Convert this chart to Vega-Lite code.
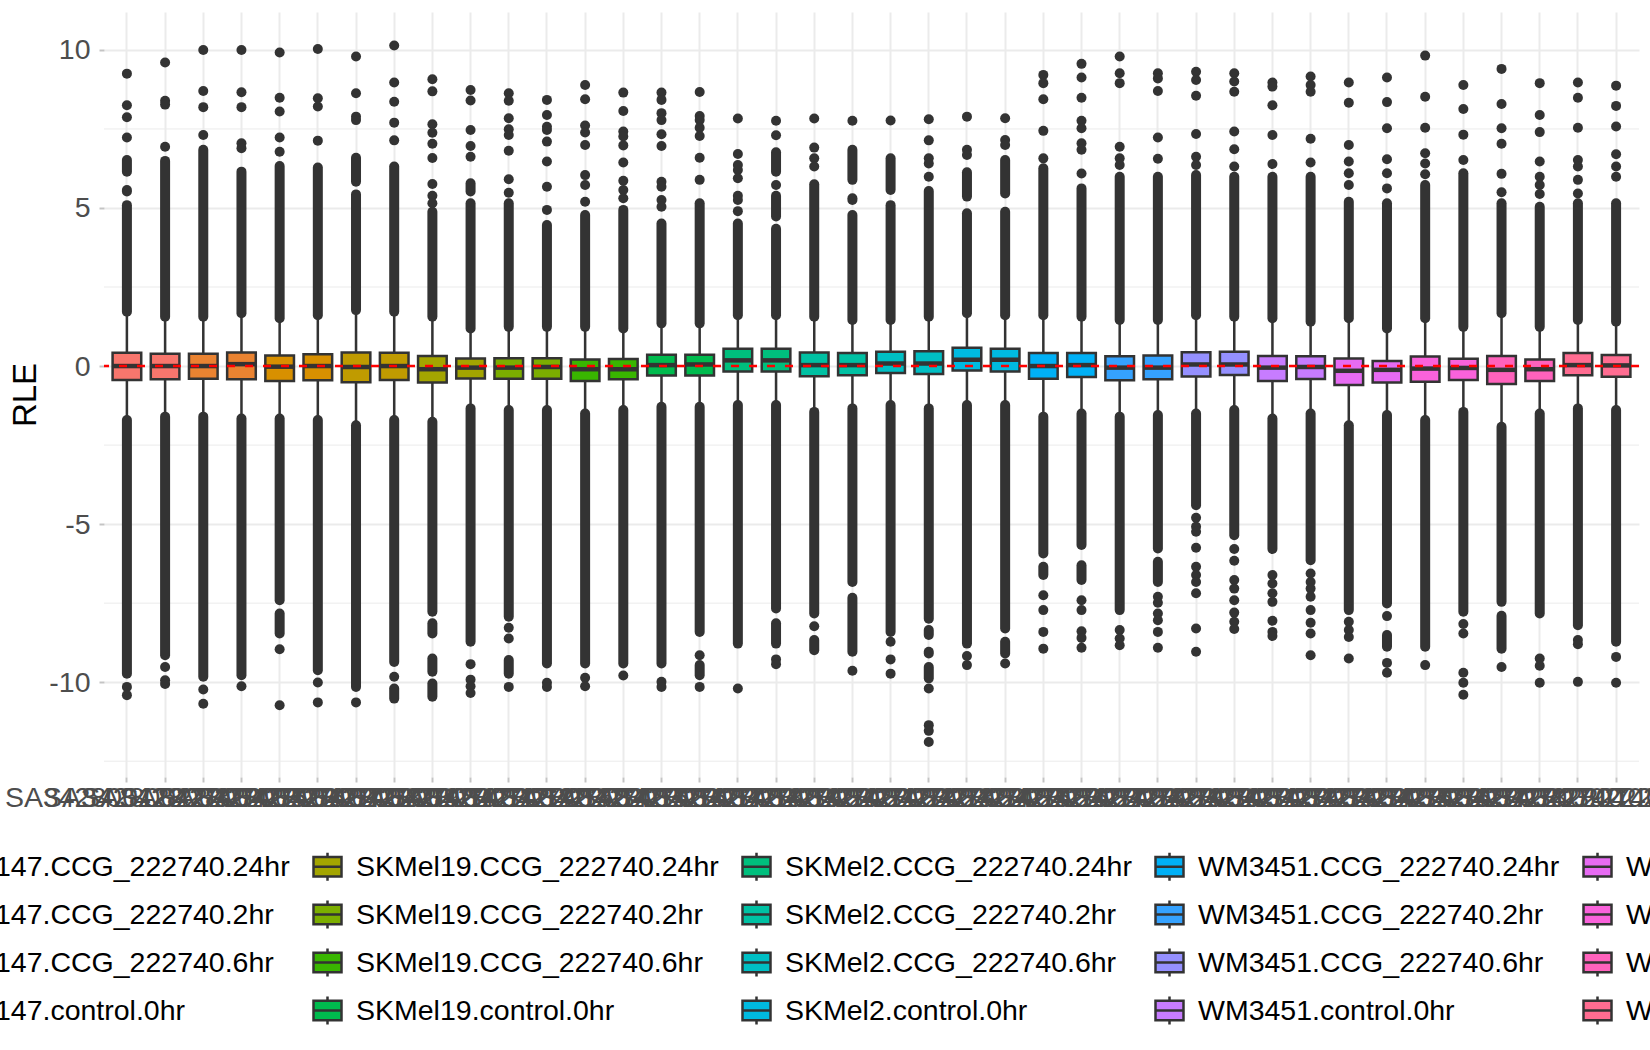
{
  "$schema": "https://vega.github.io/schema/vega-lite/v6.json",
  "autosize": {"type": "none"},
  "width": 1535,
  "height": 765,
  "padding": {"left": 104, "top": 12, "right": 11, "bottom": 273},
  "background": "white",
  "config": {
    "view": {"stroke": null},
    "font": "Liberation Sans",
    "axis": {
      "domain": false,
      "ticks": true,
      "grid": true,
      "tickColor": "#C4C4C4",
      "tickWidth": 2,
      "tickSize": 5,
      "gridColor": "#EBEBEB",
      "gridWidth": 2,
      "labelColor": "#4D4D4D",
      "labelFontSize": 28.5,
      "labelFont": "Liberation Sans",
      "labelLimit": 1000,
      "titleFont": "Liberation Sans",
      "titleFontWeight": "normal",
      "titleColor": "#000000"
    },
    "axisX": {"labelAngle": 0, "labelOverlap": false, "labelPadding": 1, "bandPosition": 0.5},
    "axisY": {"labelPadding": 9, "titleFontSize": 33, "titlePadding": 6, "tickCount": 5}
  },
  "datasets": {
    "minor": [{"v": -12.5}, {"v": -7.5}, {"v": -2.5}, {"v": 2.5}, {"v": 7.5}],
    "zero": [{"ref": 0}],
    "boxes": [
      {"sample": "SA3428001222740", "group": "SKMel147.CCG_222740.24hr", "lo": -1.71, "q1": -0.44, "med": 0.0, "q3": 0.42, "hi": 1.72},
      {"sample": "SA3428002222740", "group": "SKMel147.CCG_222740.24hr", "lo": -1.60, "q1": -0.42, "med": 0.0, "q3": 0.39, "hi": 1.56},
      {"sample": "SA3428003222740", "group": "SKMel147.CCG_222740.2hr", "lo": -1.60, "q1": -0.40, "med": 0.0, "q3": 0.39, "hi": 1.56},
      {"sample": "SA3428004222740", "group": "SKMel147.CCG_222740.2hr", "lo": -1.66, "q1": -0.42, "med": 0.06, "q3": 0.43, "hi": 1.67},
      {"sample": "SA3428005222740", "group": "SKMel147.CCG_222740.6hr", "lo": -1.66, "q1": -0.47, "med": -0.02, "q3": 0.33, "hi": 1.51},
      {"sample": "SA3428006222740", "group": "SKMel147.CCG_222740.6hr", "lo": -1.71, "q1": -0.45, "med": 0.0, "q3": 0.37, "hi": 1.61},
      {"sample": "SA3428007222740", "group": "SKMel147.control.0hr", "lo": -1.87, "q1": -0.51, "med": -0.03, "q3": 0.43, "hi": 1.77},
      {"sample": "SA3428008222740", "group": "SKMel147.control.0hr", "lo": -1.71, "q1": -0.44, "med": 0.0, "q3": 0.42, "hi": 1.72},
      {"sample": "SA3428009222740", "group": "SKMel19.CCG_222740.24hr", "lo": -1.76, "q1": -0.52, "med": -0.10, "q3": 0.32, "hi": 1.56},
      {"sample": "SA3428010222740", "group": "SKMel19.CCG_222740.24hr", "lo": -1.34, "q1": -0.39, "med": -0.05, "q3": 0.24, "hi": 1.19},
      {"sample": "SA3428011222740", "group": "SKMel19.CCG_222740.2hr", "lo": -1.39, "q1": -0.40, "med": -0.05, "q3": 0.25, "hi": 1.24},
      {"sample": "SA3428012222740", "group": "SKMel19.CCG_222740.2hr", "lo": -1.39, "q1": -0.40, "med": -0.03, "q3": 0.25, "hi": 1.24},
      {"sample": "SA3428013222740", "group": "SKMel19.CCG_222740.6hr", "lo": -1.50, "q1": -0.47, "med": -0.10, "q3": 0.21, "hi": 1.24},
      {"sample": "SA3428014222740", "group": "SKMel19.CCG_222740.6hr", "lo": -1.39, "q1": -0.42, "med": -0.10, "q3": 0.22, "hi": 1.19},
      {"sample": "SA3428015222740", "group": "SKMel19.control.0hr", "lo": -1.29, "q1": -0.30, "med": 0.03, "q3": 0.36, "hi": 1.35},
      {"sample": "SA3428016222740", "group": "SKMel19.control.0hr", "lo": -1.29, "q1": -0.30, "med": 0.05, "q3": 0.36, "hi": 1.35},
      {"sample": "SA3428017222740", "group": "SKMel2.CCG_222740.24hr", "lo": -1.23, "q1": -0.17, "med": 0.18, "q3": 0.55, "hi": 1.61},
      {"sample": "SA3428018222740", "group": "SKMel2.CCG_222740.24hr", "lo": -1.23, "q1": -0.17, "med": 0.18, "q3": 0.55, "hi": 1.61},
      {"sample": "SA3428019222740", "group": "SKMel2.CCG_222740.2hr", "lo": -1.45, "q1": -0.32, "med": 0.03, "q3": 0.43, "hi": 1.56},
      {"sample": "SA3428020222740", "group": "SKMel2.CCG_222740.2hr", "lo": -1.34, "q1": -0.29, "med": 0.03, "q3": 0.41, "hi": 1.46},
      {"sample": "SA3428021222740", "group": "SKMel2.CCG_222740.6hr", "lo": -1.23, "q1": -0.22, "med": 0.08, "q3": 0.45, "hi": 1.46},
      {"sample": "SA3428022222740", "group": "SKMel2.CCG_222740.6hr", "lo": -1.34, "q1": -0.25, "med": 0.08, "q3": 0.47, "hi": 1.56},
      {"sample": "SA3428023222740", "group": "SKMel2.control.0hr", "lo": -1.23, "q1": -0.14, "med": 0.20, "q3": 0.58, "hi": 1.67},
      {"sample": "SA3428024222740", "group": "SKMel2.control.0hr", "lo": -1.23, "q1": -0.17, "med": 0.20, "q3": 0.55, "hi": 1.61},
      {"sample": "SA3428025222740", "group": "WM3451.CCG_222740.24hr", "lo": -1.60, "q1": -0.40, "med": 0.0, "q3": 0.41, "hi": 1.61},
      {"sample": "SA3428026222740", "group": "WM3451.CCG_222740.24hr", "lo": -1.50, "q1": -0.35, "med": 0.03, "q3": 0.41, "hi": 1.56},
      {"sample": "SA3428027222740", "group": "WM3451.CCG_222740.2hr", "lo": -1.60, "q1": -0.45, "med": -0.05, "q3": 0.31, "hi": 1.46},
      {"sample": "SA3428028222740", "group": "WM3451.CCG_222740.2hr", "lo": -1.55, "q1": -0.42, "med": -0.05, "q3": 0.33, "hi": 1.46},
      {"sample": "SA3428029222740", "group": "WM3451.CCG_222740.6hr", "lo": -1.50, "q1": -0.33, "med": 0.05, "q3": 0.44, "hi": 1.61},
      {"sample": "SA3428030222740", "group": "WM3451.CCG_222740.6hr", "lo": -1.39, "q1": -0.28, "med": 0.05, "q3": 0.45, "hi": 1.56},
      {"sample": "SA3428031222740", "group": "WM3451.control.0hr", "lo": -1.66, "q1": -0.47, "med": -0.05, "q3": 0.32, "hi": 1.51},
      {"sample": "SA3428032222740", "group": "WM3451.control.0hr", "lo": -1.50, "q1": -0.41, "med": -0.03, "q3": 0.31, "hi": 1.40},
      {"sample": "SA3428033222740", "group": "WM983B.CCG_222740.24hr", "lo": -1.87, "q1": -0.60, "med": -0.15, "q3": 0.24, "hi": 1.51},
      {"sample": "SA3428034222740", "group": "WM983B.CCG_222740.24hr", "lo": -1.55, "q1": -0.52, "med": -0.12, "q3": 0.16, "hi": 1.19},
      {"sample": "SA3428035222740", "group": "WM983B.CCG_222740.2hr", "lo": -1.71, "q1": -0.50, "med": -0.08, "q3": 0.30, "hi": 1.51},
      {"sample": "SA3428036222740", "group": "WM983B.CCG_222740.2hr", "lo": -1.45, "q1": -0.44, "med": -0.06, "q3": 0.23, "hi": 1.24},
      {"sample": "SA3428037222740", "group": "WM983B.CCG_222740.6hr", "lo": -1.92, "q1": -0.57, "med": -0.12, "q3": 0.32, "hi": 1.67},
      {"sample": "SA3428038222740", "group": "WM983B.CCG_222740.6hr", "lo": -1.50, "q1": -0.47, "med": -0.10, "q3": 0.21, "hi": 1.24},
      {"sample": "SA3428039222740", "group": "WM983B.control.0hr", "lo": -1.34, "q1": -0.29, "med": 0.03, "q3": 0.41, "hi": 1.46},
      {"sample": "SA3428040222740", "group": "WM983B.control.0hr", "lo": -1.39, "q1": -0.34, "med": 0.02, "q3": 0.35, "hi": 1.40}
    ],
    "dense": [
      {"sample": "SA3428001222740", "a": 1.72, "b": 5.09}, {"sample": "SA3428001222740", "a": 5.52, "b": 5.57}, {"sample": "SA3428001222740", "a": 6.15, "b": 6.52}, {"sample": "SA3428001222740", "a": -1.71, "b": -9.73},
      {"sample": "SA3428002222740", "a": 1.56, "b": 6.49}, {"sample": "SA3428002222740", "a": -1.60, "b": -9.15},
      {"sample": "SA3428003222740", "a": 1.56, "b": 6.84}, {"sample": "SA3428003222740", "a": -1.60, "b": -9.83},
      {"sample": "SA3428004222740", "a": 1.67, "b": 6.15}, {"sample": "SA3428004222740", "a": -1.66, "b": -9.78},
      {"sample": "SA3428005222740", "a": 1.51, "b": 6.33}, {"sample": "SA3428005222740", "a": -1.66, "b": -7.41}, {"sample": "SA3428005222740", "a": -7.83, "b": -8.46},
      {"sample": "SA3428006222740", "a": 1.61, "b": 6.28}, {"sample": "SA3428006222740", "a": -1.71, "b": -9.62},
      {"sample": "SA3428007222740", "a": 1.77, "b": 5.43}, {"sample": "SA3428007222740", "a": 5.83, "b": 6.59}, {"sample": "SA3428007222740", "a": -1.87, "b": -10.15},
      {"sample": "SA3428008222740", "a": 1.72, "b": 6.31}, {"sample": "SA3428008222740", "a": -1.71, "b": -9.36}, {"sample": "SA3428008222740", "a": -10.20, "b": -10.52},
      {"sample": "SA3428009222740", "a": 1.56, "b": 4.88}, {"sample": "SA3428009222740", "a": -1.76, "b": -7.77}, {"sample": "SA3428009222740", "a": -8.14, "b": -8.46}, {"sample": "SA3428009222740", "a": -9.25, "b": -9.67}, {"sample": "SA3428009222740", "a": -10.04, "b": -10.46},
      {"sample": "SA3428010222740", "a": 1.19, "b": 5.15}, {"sample": "SA3428010222740", "a": 5.52, "b": 5.78}, {"sample": "SA3428010222740", "a": -1.34, "b": -8.72},
      {"sample": "SA3428011222740", "a": 1.24, "b": 5.15}, {"sample": "SA3428011222740", "a": -1.39, "b": -7.93}, {"sample": "SA3428011222740", "a": -9.30, "b": -9.73},
      {"sample": "SA3428012222740", "a": 1.24, "b": 4.46}, {"sample": "SA3428012222740", "a": -1.39, "b": -9.41},
      {"sample": "SA3428013222740", "a": 1.24, "b": 4.78}, {"sample": "SA3428013222740", "a": -1.50, "b": -9.41},
      {"sample": "SA3428014222740", "a": 1.19, "b": 4.94}, {"sample": "SA3428014222740", "a": -1.39, "b": -9.41},
      {"sample": "SA3428015222740", "a": 1.35, "b": 4.51}, {"sample": "SA3428015222740", "a": -1.29, "b": -9.41},
      {"sample": "SA3428016222740", "a": 1.35, "b": 5.15}, {"sample": "SA3428016222740", "a": -1.29, "b": -8.41}, {"sample": "SA3428016222740", "a": -9.46, "b": -9.78},
      {"sample": "SA3428017222740", "a": 1.61, "b": 4.51}, {"sample": "SA3428017222740", "a": -1.23, "b": -8.78},
      {"sample": "SA3428018222740", "a": 1.61, "b": 4.34}, {"sample": "SA3428018222740", "a": 4.73, "b": 5.39}, {"sample": "SA3428018222740", "a": 6.15, "b": 6.76}, {"sample": "SA3428018222740", "a": -1.23, "b": -7.67}, {"sample": "SA3428018222740", "a": -8.14, "b": -8.78},
      {"sample": "SA3428019222740", "a": 1.56, "b": 5.75}, {"sample": "SA3428019222740", "a": -1.45, "b": -7.83}, {"sample": "SA3428019222740", "a": -8.67, "b": -8.99},
      {"sample": "SA3428020222740", "a": 1.46, "b": 4.78}, {"sample": "SA3428020222740", "a": 5.25, "b": 5.31}, {"sample": "SA3428020222740", "a": 5.89, "b": 6.84}, {"sample": "SA3428020222740", "a": -1.34, "b": -6.83}, {"sample": "SA3428020222740", "a": -7.33, "b": -9.04},
      {"sample": "SA3428021222740", "a": 1.46, "b": 5.09}, {"sample": "SA3428021222740", "a": 5.57, "b": 6.57}, {"sample": "SA3428021222740", "a": -1.23, "b": -8.41},
      {"sample": "SA3428022222740", "a": 1.56, "b": 5.54}, {"sample": "SA3428022222740", "a": -1.34, "b": -7.99}, {"sample": "SA3428022222740", "a": -8.35, "b": -8.51}, {"sample": "SA3428022222740", "a": -9.04, "b": -9.09}, {"sample": "SA3428022222740", "a": -9.52, "b": -9.88},
      {"sample": "SA3428023222740", "a": 1.67, "b": 4.83}, {"sample": "SA3428023222740", "a": 5.36, "b": 6.13}, {"sample": "SA3428023222740", "a": -1.23, "b": -8.78},
      {"sample": "SA3428024222740", "a": 1.61, "b": 4.88}, {"sample": "SA3428024222740", "a": 5.46, "b": 6.52}, {"sample": "SA3428024222740", "a": -1.23, "b": -8.30}, {"sample": "SA3428024222740", "a": -8.72, "b": -9.09},
      {"sample": "SA3428025222740", "a": 1.61, "b": 6.26}, {"sample": "SA3428025222740", "a": -1.60, "b": -5.93}, {"sample": "SA3428025222740", "a": -6.35, "b": -6.61},
      {"sample": "SA3428026222740", "a": 1.56, "b": 5.62}, {"sample": "SA3428026222740", "a": -1.50, "b": -5.66}, {"sample": "SA3428026222740", "a": -6.30, "b": -6.77},
      {"sample": "SA3428027222740", "a": 1.46, "b": 5.99}, {"sample": "SA3428027222740", "a": -1.60, "b": -7.72},
      {"sample": "SA3428028222740", "a": 1.46, "b": 5.99}, {"sample": "SA3428028222740", "a": -1.55, "b": -5.77}, {"sample": "SA3428028222740", "a": -6.19, "b": -6.83},
      {"sample": "SA3428029222740", "a": 1.61, "b": 6.04}, {"sample": "SA3428029222740", "a": -1.50, "b": -4.40},
      {"sample": "SA3428030222740", "a": 1.56, "b": 5.99}, {"sample": "SA3428030222740", "a": -1.39, "b": -5.35},
      {"sample": "SA3428031222740", "a": 1.51, "b": 5.99}, {"sample": "SA3428031222740", "a": -1.66, "b": -5.79},
      {"sample": "SA3428032222740", "a": 1.40, "b": 5.99}, {"sample": "SA3428032222740", "a": -1.50, "b": -6.14},
      {"sample": "SA3428033222740", "a": 1.51, "b": 5.20}, {"sample": "SA3428033222740", "a": -1.87, "b": -7.72},
      {"sample": "SA3428034222740", "a": 1.19, "b": 5.15}, {"sample": "SA3428034222740", "a": -1.55, "b": -7.51}, {"sample": "SA3428034222740", "a": -8.51, "b": -8.88},
      {"sample": "SA3428035222740", "a": 1.51, "b": 5.73}, {"sample": "SA3428035222740", "a": -1.71, "b": -8.88},
      {"sample": "SA3428036222740", "a": 1.24, "b": 6.10}, {"sample": "SA3428036222740", "a": -1.45, "b": -7.77},
      {"sample": "SA3428037222740", "a": 1.67, "b": 5.15}, {"sample": "SA3428037222740", "a": -1.92, "b": -7.46}, {"sample": "SA3428037222740", "a": -7.90, "b": -8.94},
      {"sample": "SA3428038222740", "a": 1.24, "b": 5.04}, {"sample": "SA3428038222740", "a": -1.50, "b": -7.83},
      {"sample": "SA3428039222740", "a": 1.46, "b": 5.15}, {"sample": "SA3428039222740", "a": -1.34, "b": -8.20},
      {"sample": "SA3428040222740", "a": 1.40, "b": 5.15}, {"sample": "SA3428040222740", "a": -1.39, "b": -8.72}
    ],
    "pts": [
      {"sample": "SA3428001222740", "v": 9.25}, {"sample": "SA3428001222740", "v": 8.25}, {"sample": "SA3428001222740", "v": 7.87}, {"sample": "SA3428001222740", "v": 7.23}, {"sample": "SA3428001222740", "v": -10.15}, {"sample": "SA3428001222740", "v": -10.41},
      {"sample": "SA3428002222740", "v": 9.60}, {"sample": "SA3428002222740", "v": 8.39}, {"sample": "SA3428002222740", "v": 8.27}, {"sample": "SA3428002222740", "v": 6.94}, {"sample": "SA3428002222740", "v": -9.52}, {"sample": "SA3428002222740", "v": -9.94}, {"sample": "SA3428002222740", "v": -10.06},
      {"sample": "SA3428003222740", "v": 10.0}, {"sample": "SA3428003222740", "v": 8.70}, {"sample": "SA3428003222740", "v": 8.19}, {"sample": "SA3428003222740", "v": 7.31}, {"sample": "SA3428003222740", "v": -10.23}, {"sample": "SA3428003222740", "v": -10.68},
      {"sample": "SA3428004222740", "v": 10.0}, {"sample": "SA3428004222740", "v": 8.66}, {"sample": "SA3428004222740", "v": 8.19}, {"sample": "SA3428004222740", "v": 7.05}, {"sample": "SA3428004222740", "v": 6.89}, {"sample": "SA3428004222740", "v": -10.13},
      {"sample": "SA3428005222740", "v": 9.92}, {"sample": "SA3428005222740", "v": 8.49}, {"sample": "SA3428005222740", "v": 8.05}, {"sample": "SA3428005222740", "v": 7.23}, {"sample": "SA3428005222740", "v": 6.78}, {"sample": "SA3428005222740", "v": -8.96}, {"sample": "SA3428005222740", "v": -10.73},
      {"sample": "SA3428006222740", "v": 10.03}, {"sample": "SA3428006222740", "v": 8.47}, {"sample": "SA3428006222740", "v": 8.21}, {"sample": "SA3428006222740", "v": 7.13}, {"sample": "SA3428006222740", "v": -10.01}, {"sample": "SA3428006222740", "v": -10.64},
      {"sample": "SA3428007222740", "v": 9.79}, {"sample": "SA3428007222740", "v": 8.63}, {"sample": "SA3428007222740", "v": 7.89}, {"sample": "SA3428007222740", "v": 7.78}, {"sample": "SA3428007222740", "v": -10.64},
      {"sample": "SA3428008222740", "v": 10.14}, {"sample": "SA3428008222740", "v": 8.97}, {"sample": "SA3428008222740", "v": 8.36}, {"sample": "SA3428008222740", "v": 7.70}, {"sample": "SA3428008222740", "v": 7.14}, {"sample": "SA3428008222740", "v": -9.83},
      {"sample": "SA3428009222740", "v": 9.07}, {"sample": "SA3428009222740", "v": 8.69}, {"sample": "SA3428009222740", "v": 7.65}, {"sample": "SA3428009222740", "v": 7.38}, {"sample": "SA3428009222740", "v": 7.03}, {"sample": "SA3428009222740", "v": 6.58}, {"sample": "SA3428009222740", "v": 5.76}, {"sample": "SA3428009222740", "v": 5.39}, {"sample": "SA3428009222740", "v": 5.15},
      {"sample": "SA3428010222740", "v": 8.73}, {"sample": "SA3428010222740", "v": 8.40}, {"sample": "SA3428010222740", "v": 7.47}, {"sample": "SA3428010222740", "v": 6.96}, {"sample": "SA3428010222740", "v": 6.62}, {"sample": "SA3428010222740", "v": -9.43}, {"sample": "SA3428010222740", "v": -9.92}, {"sample": "SA3428010222740", "v": -10.13}, {"sample": "SA3428010222740", "v": -10.34},
      {"sample": "SA3428011222740", "v": 8.63}, {"sample": "SA3428011222740", "v": 8.39}, {"sample": "SA3428011222740", "v": 7.84}, {"sample": "SA3428011222740", "v": 7.49}, {"sample": "SA3428011222740", "v": 7.31}, {"sample": "SA3428011222740", "v": 6.81}, {"sample": "SA3428011222740", "v": 5.91}, {"sample": "SA3428011222740", "v": 5.48}, {"sample": "SA3428011222740", "v": -8.28}, {"sample": "SA3428011222740", "v": -8.62}, {"sample": "SA3428011222740", "v": -10.15},
      {"sample": "SA3428012222740", "v": 8.42}, {"sample": "SA3428012222740", "v": 7.94}, {"sample": "SA3428012222740", "v": 7.57}, {"sample": "SA3428012222740", "v": 7.47}, {"sample": "SA3428012222740", "v": 7.10}, {"sample": "SA3428012222740", "v": 6.47}, {"sample": "SA3428012222740", "v": 5.67}, {"sample": "SA3428012222740", "v": 4.94}, {"sample": "SA3428012222740", "v": -10.02}, {"sample": "SA3428012222740", "v": -10.15},
      {"sample": "SA3428013222740", "v": 8.89}, {"sample": "SA3428013222740", "v": 8.44}, {"sample": "SA3428013222740", "v": 7.61}, {"sample": "SA3428013222740", "v": 7.39}, {"sample": "SA3428013222740", "v": 6.99}, {"sample": "SA3428013222740", "v": 6.04}, {"sample": "SA3428013222740", "v": 5.73}, {"sample": "SA3428013222740", "v": 5.20}, {"sample": "SA3428013222740", "v": -9.86}, {"sample": "SA3428013222740", "v": -10.13},
      {"sample": "SA3428014222740", "v": 8.65}, {"sample": "SA3428014222740", "v": 8.07}, {"sample": "SA3428014222740", "v": 7.42}, {"sample": "SA3428014222740", "v": 7.26}, {"sample": "SA3428014222740", "v": 6.98}, {"sample": "SA3428014222740", "v": 6.44}, {"sample": "SA3428014222740", "v": 5.86}, {"sample": "SA3428014222740", "v": 5.57}, {"sample": "SA3428014222740", "v": 5.31}, {"sample": "SA3428014222740", "v": -9.79},
      {"sample": "SA3428015222740", "v": 8.65}, {"sample": "SA3428015222740", "v": 8.42}, {"sample": "SA3428015222740", "v": 8.00}, {"sample": "SA3428015222740", "v": 7.78}, {"sample": "SA3428015222740", "v": 7.33}, {"sample": "SA3428015222740", "v": 6.96}, {"sample": "SA3428015222740", "v": 5.83}, {"sample": "SA3428015222740", "v": 5.67}, {"sample": "SA3428015222740", "v": 5.25}, {"sample": "SA3428015222740", "v": 5.04}, {"sample": "SA3428015222740", "v": -9.99}, {"sample": "SA3428015222740", "v": -10.15},
      {"sample": "SA3428016222740", "v": 8.67}, {"sample": "SA3428016222740", "v": 7.91}, {"sample": "SA3428016222740", "v": 7.78}, {"sample": "SA3428016222740", "v": 7.54}, {"sample": "SA3428016222740", "v": 7.28}, {"sample": "SA3428016222740", "v": 6.59}, {"sample": "SA3428016222740", "v": 5.89}, {"sample": "SA3428016222740", "v": -9.15}, {"sample": "SA3428016222740", "v": -10.15},
      {"sample": "SA3428017222740", "v": 7.83}, {"sample": "SA3428017222740", "v": 6.71}, {"sample": "SA3428017222740", "v": 6.36}, {"sample": "SA3428017222740", "v": 6.20}, {"sample": "SA3428017222740", "v": 5.94}, {"sample": "SA3428017222740", "v": 5.39}, {"sample": "SA3428017222740", "v": 5.25}, {"sample": "SA3428017222740", "v": 4.90}, {"sample": "SA3428017222740", "v": -10.20},
      {"sample": "SA3428018222740", "v": 7.76}, {"sample": "SA3428018222740", "v": 7.30}, {"sample": "SA3428018222740", "v": 5.73}, {"sample": "SA3428018222740", "v": -9.28}, {"sample": "SA3428018222740", "v": -9.43},
      {"sample": "SA3428019222740", "v": 7.83}, {"sample": "SA3428019222740", "v": 6.91}, {"sample": "SA3428019222740", "v": 6.57}, {"sample": "SA3428019222740", "v": 6.31}, {"sample": "SA3428019222740", "v": -8.23},
      {"sample": "SA3428020222740", "v": 7.76}, {"sample": "SA3428020222740", "v": -9.64},
      {"sample": "SA3428021222740", "v": 7.77}, {"sample": "SA3428021222740", "v": -8.72}, {"sample": "SA3428021222740", "v": -9.28}, {"sample": "SA3428021222740", "v": -9.73},
      {"sample": "SA3428022222740", "v": 7.81}, {"sample": "SA3428022222740", "v": 7.14}, {"sample": "SA3428022222740", "v": 6.57}, {"sample": "SA3428022222740", "v": 6.41}, {"sample": "SA3428022222740", "v": 5.99}, {"sample": "SA3428022222740", "v": -10.20}, {"sample": "SA3428022222740", "v": -11.36}, {"sample": "SA3428022222740", "v": -11.54}, {"sample": "SA3428022222740", "v": -11.89},
      {"sample": "SA3428023222740", "v": 7.89}, {"sample": "SA3428023222740", "v": 6.84}, {"sample": "SA3428023222740", "v": 6.68}, {"sample": "SA3428023222740", "v": -9.17}, {"sample": "SA3428023222740", "v": -9.46},
      {"sample": "SA3428024222740", "v": 7.84}, {"sample": "SA3428024222740", "v": 7.15}, {"sample": "SA3428024222740", "v": 6.99}, {"sample": "SA3428024222740", "v": -9.41},
      {"sample": "SA3428025222740", "v": 9.21}, {"sample": "SA3428025222740", "v": 8.95}, {"sample": "SA3428025222740", "v": 8.44}, {"sample": "SA3428025222740", "v": 7.44}, {"sample": "SA3428025222740", "v": 6.57}, {"sample": "SA3428025222740", "v": -7.25}, {"sample": "SA3428025222740", "v": -7.72}, {"sample": "SA3428025222740", "v": -8.41}, {"sample": "SA3428025222740", "v": -8.94},
      {"sample": "SA3428026222740", "v": 9.56}, {"sample": "SA3428026222740", "v": 9.13}, {"sample": "SA3428026222740", "v": 8.49}, {"sample": "SA3428026222740", "v": 7.76}, {"sample": "SA3428026222740", "v": 7.52}, {"sample": "SA3428026222740", "v": 7.05}, {"sample": "SA3428026222740", "v": 6.84}, {"sample": "SA3428026222740", "v": 6.09}, {"sample": "SA3428026222740", "v": -7.41}, {"sample": "SA3428026222740", "v": -7.72}, {"sample": "SA3428026222740", "v": -8.39}, {"sample": "SA3428026222740", "v": -8.60}, {"sample": "SA3428026222740", "v": -8.91},
      {"sample": "SA3428027222740", "v": 9.79}, {"sample": "SA3428027222740", "v": 9.26}, {"sample": "SA3428027222740", "v": 8.95}, {"sample": "SA3428027222740", "v": 6.94}, {"sample": "SA3428027222740", "v": 6.57}, {"sample": "SA3428027222740", "v": 6.36}, {"sample": "SA3428027222740", "v": -8.35}, {"sample": "SA3428027222740", "v": -8.62}, {"sample": "SA3428027222740", "v": -8.83},
      {"sample": "SA3428028222740", "v": 9.26}, {"sample": "SA3428028222740", "v": 9.10}, {"sample": "SA3428028222740", "v": 8.70}, {"sample": "SA3428028222740", "v": 7.23}, {"sample": "SA3428028222740", "v": 6.56}, {"sample": "SA3428028222740", "v": -7.30}, {"sample": "SA3428028222740", "v": -7.49}, {"sample": "SA3428028222740", "v": -7.83}, {"sample": "SA3428028222740", "v": -8.04}, {"sample": "SA3428028222740", "v": -8.41}, {"sample": "SA3428028222740", "v": -8.91},
      {"sample": "SA3428029222740", "v": 9.31}, {"sample": "SA3428029222740", "v": 9.05}, {"sample": "SA3428029222740", "v": 8.55}, {"sample": "SA3428029222740", "v": 7.34}, {"sample": "SA3428029222740", "v": 6.62}, {"sample": "SA3428029222740", "v": 6.36}, {"sample": "SA3428029222740", "v": -4.80}, {"sample": "SA3428029222740", "v": -5.08}, {"sample": "SA3428029222740", "v": -5.24}, {"sample": "SA3428029222740", "v": -5.75}, {"sample": "SA3428029222740", "v": -6.35}, {"sample": "SA3428029222740", "v": -6.61}, {"sample": "SA3428029222740", "v": -6.83}, {"sample": "SA3428029222740", "v": -7.19}, {"sample": "SA3428029222740", "v": -8.30}, {"sample": "SA3428029222740", "v": -9.04},
      {"sample": "SA3428030222740", "v": 9.26}, {"sample": "SA3428030222740", "v": 9.00}, {"sample": "SA3428030222740", "v": 8.68}, {"sample": "SA3428030222740", "v": 7.42}, {"sample": "SA3428030222740", "v": 6.86}, {"sample": "SA3428030222740", "v": 6.31}, {"sample": "SA3428030222740", "v": -5.79}, {"sample": "SA3428030222740", "v": -6.16}, {"sample": "SA3428030222740", "v": -6.77}, {"sample": "SA3428030222740", "v": -7.04}, {"sample": "SA3428030222740", "v": -7.41}, {"sample": "SA3428030222740", "v": -7.80}, {"sample": "SA3428030222740", "v": -8.09}, {"sample": "SA3428030222740", "v": -8.32},
      {"sample": "SA3428031222740", "v": 8.97}, {"sample": "SA3428031222740", "v": 8.84}, {"sample": "SA3428031222740", "v": 8.25}, {"sample": "SA3428031222740", "v": 7.31}, {"sample": "SA3428031222740", "v": 6.39}, {"sample": "SA3428031222740", "v": -6.61}, {"sample": "SA3428031222740", "v": -6.88}, {"sample": "SA3428031222740", "v": -7.19}, {"sample": "SA3428031222740", "v": -7.46}, {"sample": "SA3428031222740", "v": -8.06}, {"sample": "SA3428031222740", "v": -8.41}, {"sample": "SA3428031222740", "v": -8.54},
      {"sample": "SA3428032222740", "v": 9.16}, {"sample": "SA3428032222740", "v": 8.89}, {"sample": "SA3428032222740", "v": 8.68}, {"sample": "SA3428032222740", "v": 7.19}, {"sample": "SA3428032222740", "v": 6.44}, {"sample": "SA3428032222740", "v": -6.56}, {"sample": "SA3428032222740", "v": -6.83}, {"sample": "SA3428032222740", "v": -7.04}, {"sample": "SA3428032222740", "v": -7.30}, {"sample": "SA3428032222740", "v": -7.72}, {"sample": "SA3428032222740", "v": -8.12}, {"sample": "SA3428032222740", "v": -8.46}, {"sample": "SA3428032222740", "v": -9.15},
      {"sample": "SA3428033222740", "v": 8.97}, {"sample": "SA3428033222740", "v": 8.33}, {"sample": "SA3428033222740", "v": 6.99}, {"sample": "SA3428033222740", "v": 6.47}, {"sample": "SA3428033222740", "v": 6.10}, {"sample": "SA3428033222740", "v": 5.73}, {"sample": "SA3428033222740", "v": -8.09}, {"sample": "SA3428033222740", "v": -8.35}, {"sample": "SA3428033222740", "v": -8.57}, {"sample": "SA3428033222740", "v": -9.25},
      {"sample": "SA3428034222740", "v": 9.13}, {"sample": "SA3428034222740", "v": 8.35}, {"sample": "SA3428034222740", "v": 7.52}, {"sample": "SA3428034222740", "v": 6.54}, {"sample": "SA3428034222740", "v": 6.10}, {"sample": "SA3428034222740", "v": 5.62}, {"sample": "SA3428034222740", "v": -7.91}, {"sample": "SA3428034222740", "v": -9.39}, {"sample": "SA3428034222740", "v": -9.70},
      {"sample": "SA3428035222740", "v": 9.82}, {"sample": "SA3428035222740", "v": 8.52}, {"sample": "SA3428035222740", "v": 7.54}, {"sample": "SA3428035222740", "v": 6.73}, {"sample": "SA3428035222740", "v": 6.41}, {"sample": "SA3428035222740", "v": 6.07}, {"sample": "SA3428035222740", "v": -9.46},
      {"sample": "SA3428036222740", "v": 8.89}, {"sample": "SA3428036222740", "v": 8.13}, {"sample": "SA3428036222740", "v": 7.32}, {"sample": "SA3428036222740", "v": 6.52}, {"sample": "SA3428036222740", "v": -8.16}, {"sample": "SA3428036222740", "v": -8.46}, {"sample": "SA3428036222740", "v": -9.70}, {"sample": "SA3428036222740", "v": -10.02}, {"sample": "SA3428036222740", "v": -10.40},
      {"sample": "SA3428037222740", "v": 9.40}, {"sample": "SA3428037222740", "v": 8.29}, {"sample": "SA3428037222740", "v": 7.52}, {"sample": "SA3428037222740", "v": 7.03}, {"sample": "SA3428037222740", "v": 6.08}, {"sample": "SA3428037222740", "v": 5.50}, {"sample": "SA3428037222740", "v": -9.52},
      {"sample": "SA3428038222740", "v": 8.95}, {"sample": "SA3428038222740", "v": 7.94}, {"sample": "SA3428038222740", "v": 7.40}, {"sample": "SA3428038222740", "v": 6.47}, {"sample": "SA3428038222740", "v": 5.99}, {"sample": "SA3428038222740", "v": 5.73}, {"sample": "SA3428038222740", "v": 5.44}, {"sample": "SA3428038222740", "v": -9.25}, {"sample": "SA3428038222740", "v": -9.48}, {"sample": "SA3428038222740", "v": -10.02},
      {"sample": "SA3428039222740", "v": 8.97}, {"sample": "SA3428039222740", "v": 8.49}, {"sample": "SA3428039222740", "v": 7.54}, {"sample": "SA3428039222740", "v": 6.52}, {"sample": "SA3428039222740", "v": 6.31}, {"sample": "SA3428039222740", "v": 5.89}, {"sample": "SA3428039222740", "v": 5.46}, {"sample": "SA3428039222740", "v": -8.67}, {"sample": "SA3428039222740", "v": -8.80}, {"sample": "SA3428039222740", "v": -9.99},
      {"sample": "SA3428040222740", "v": 8.87}, {"sample": "SA3428040222740", "v": 8.23}, {"sample": "SA3428040222740", "v": 7.58}, {"sample": "SA3428040222740", "v": 6.70}, {"sample": "SA3428040222740", "v": 6.31}, {"sample": "SA3428040222740", "v": 5.99}, {"sample": "SA3428040222740", "v": -9.20}, {"sample": "SA3428040222740", "v": -10.02}
    ]
  },
  "layer": [
    {
      "data": {"name": "minor"},
      "mark": {"type": "rule", "color": "#EBEBEB", "strokeWidth": 1},
      "encoding": {
        "y": {"field": "v", "type": "quantitative", "title": "RLE", "scale": {"domain": [-13.0, 11.2], "nice": false, "zero": false}, "axis": {"labelExpr": "replace(datum.label, '\u2212', '-')"}}
      }
    },
    {
      "data": {"name": "boxes"},
      "mark": {"type": "rule", "color": "#333333", "strokeWidth": 2.5},
      "encoding": {
        "x": {"field": "sample", "type": "nominal", "title": null, "axis": {"grid": true}},
        "y": {"field": "lo", "type": "quantitative", "title": "RLE", "scale": {"domain": [-13.0, 11.2], "nice": false, "zero": false}, "axis": {"labelExpr": "replace(datum.label, '\u2212', '-')"}},
        "y2": {"field": "hi"}
      }
    },
    {
      "data": {"name": "boxes"},
      "mark": {"type": "bar", "width": {"band": 0.75}, "stroke": "#333333", "strokeWidth": 2.5, "opacity": 1},
      "encoding": {
        "x": {
          "field": "sample", "type": "nominal", "title": null,
          "scale": {"paddingInner": 0, "paddingOuter": 0.1},
          "axis": {"grid": true}
        },
        "y": {
          "field": "q1", "type": "quantitative", "title": "RLE",
          "scale": {"domain": [-13.0, 11.2], "nice": false, "zero": false},
          "axis": {"labelExpr": "replace(datum.label, '\u2212', '-')"}
        },
        "y2": {"field": "q3"},
        "color": {
          "field": "group", "type": "nominal",
          "scale": {
            "domain": [
              "SKMel147.CCG_222740.24hr", "SKMel19.CCG_222740.24hr", "SKMel2.CCG_222740.24hr", "WM3451.CCG_222740.24hr", "WM983B.CCG_222740.24hr",
              "SKMel147.CCG_222740.2hr", "SKMel19.CCG_222740.2hr", "SKMel2.CCG_222740.2hr", "WM3451.CCG_222740.2hr", "WM983B.CCG_222740.2hr",
              "SKMel147.CCG_222740.6hr", "SKMel19.CCG_222740.6hr", "SKMel2.CCG_222740.6hr", "WM3451.CCG_222740.6hr", "WM983B.CCG_222740.6hr",
              "SKMel147.control.0hr", "SKMel19.control.0hr", "SKMel2.control.0hr", "WM3451.control.0hr", "WM983B.control.0hr"
            ],
            "range": [
              "#F8766D", "#A3A500", "#00BF7D", "#00B0F6", "#E76BF3",
              "#EA8331", "#7CAE00", "#00C1A3", "#35A2FF", "#FA62DB",
              "#D89000", "#39B600", "#00BFC4", "#9590FF", "#FF62BC",
              "#C09B00", "#00BB4E", "#00BAE0", "#C77CFF", "#FF6C91"
            ]
          },
          "legend": {
            "title": null,
            "orient": "none",
            "legendX": -237,
            "legendY": 839,
            "columns": 5,
            "direction": "horizontal",
            "padding": 0,
            "symbolType": "M-1,-0.7L1,-0.7L1,0.7L-1,0.7Z M-1,0L1,0 M0,-0.7L0,-1 M0,0.7L0,1",
            "symbolSize": 784,
            "symbolStrokeColor": "#333333",
            "symbolStrokeWidth": 2.5,
            "symbolOpacity": 1,
            "labelFont": "Liberation Sans",
            "labelFontSize": 28.5,
            "labelColor": "#000000",
            "labelOffset": 13,
            "labelLimit": 1000,
            "rowPadding": 9,
            "columnPadding": 18
          }
        }
      }
    },
    {
      "data": {"name": "boxes"},
      "mark": {"type": "tick", "color": "#333333", "thickness": 4.5, "size": 29, "opacity": 1},
      "encoding": {
        "x": {"field": "sample", "type": "nominal", "title": null, "axis": {"grid": true}},
        "y": {"field": "med", "type": "quantitative", "title": "RLE", "scale": {"domain": [-13.0, 11.2], "nice": false, "zero": false}, "axis": {"labelExpr": "replace(datum.label, '\u2212', '-')"}}
      }
    },
    {
      "data": {"name": "dense"},
      "mark": {"type": "rule", "color": "#333333", "strokeWidth": 10, "strokeCap": "round"},
      "encoding": {
        "x": {"field": "sample", "type": "nominal", "title": null, "axis": {"grid": true}},
        "y": {"field": "a", "type": "quantitative", "title": "RLE", "scale": {"domain": [-13.0, 11.2], "nice": false, "zero": false}, "axis": {"labelExpr": "replace(datum.label, '\u2212', '-')"}},
        "y2": {"field": "b"}
      }
    },
    {
      "data": {"name": "pts"},
      "mark": {"type": "point", "filled": true, "color": "#333333", "size": 100, "opacity": 1},
      "encoding": {
        "x": {"field": "sample", "type": "nominal", "title": null, "axis": {"grid": true}},
        "y": {"field": "v", "type": "quantitative", "title": "RLE", "scale": {"domain": [-13.0, 11.2], "nice": false, "zero": false}, "axis": {"labelExpr": "replace(datum.label, '\u2212', '-')"}}
      }
    },
    {
      "data": {"name": "zero"},
      "mark": {"type": "rule", "color": "#FF0000", "strokeWidth": 2.5, "strokeDash": [8, 10]},
      "encoding": {
        "y": {"field": "ref", "type": "quantitative", "title": "RLE", "scale": {"domain": [-13.0, 11.2], "nice": false, "zero": false}, "axis": {"labelExpr": "replace(datum.label, '\u2212', '-')"}}
      }
    }
  ]
}
